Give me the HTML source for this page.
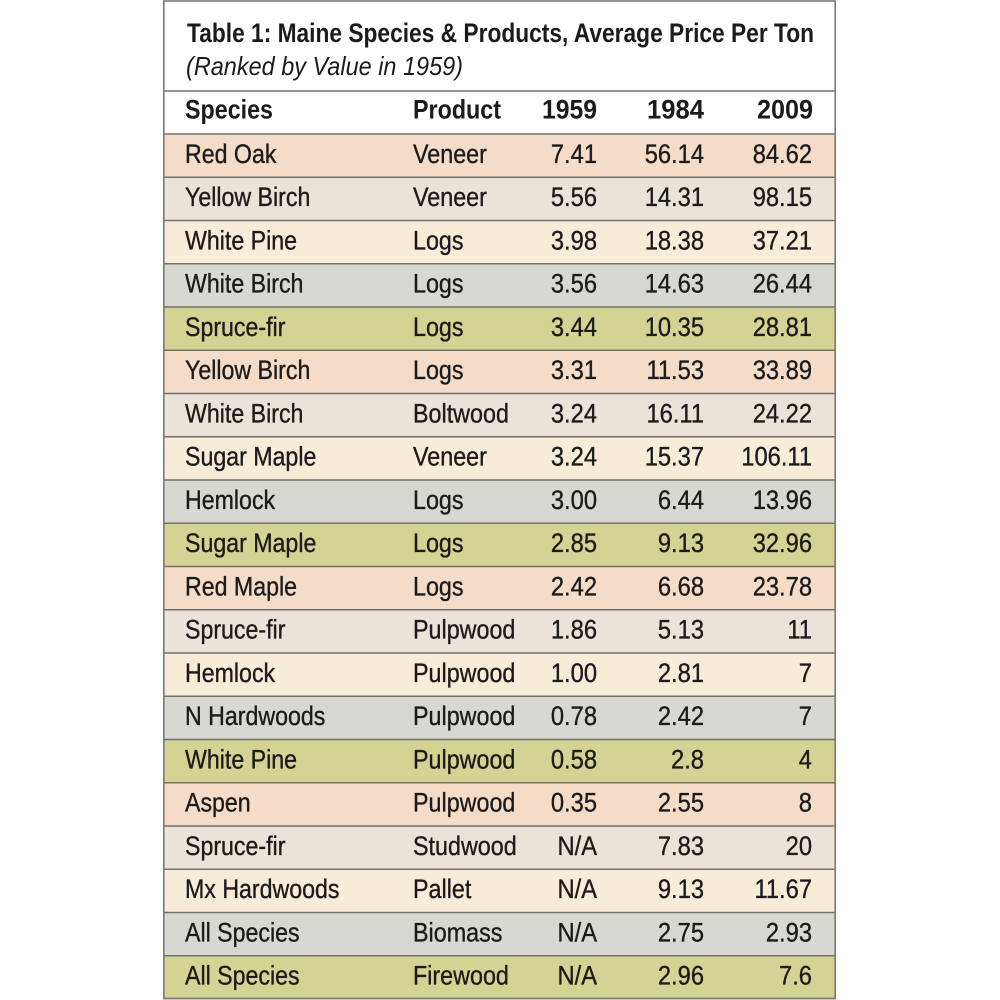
<!DOCTYPE html>
<html><head><meta charset="utf-8"><style>
html,body{margin:0;padding:0;background:#fff;}
svg{display:block;}
text{font-family:"Liberation Sans",Arial,sans-serif;fill:#1c1a1a;}
.b text{stroke:#1c1a1a;stroke-width:0.35;}
</style></head><body>
<svg width="1000" height="1000" viewBox="0 0 1000 1000" xmlns="http://www.w3.org/2000/svg">
<rect x="0" y="0" width="1000" height="1000" fill="#fff"/>
<!-- row backgrounds -->
<g>
<rect x="164" y="134" width="671" height="43.25" fill="#f4dcc9"/>
<rect x="164" y="177.25" width="671" height="43.25" fill="#e9e3da"/>
<rect x="164" y="220.5" width="671" height="43.25" fill="#f7ecd8"/>
<rect x="164" y="263.75" width="671" height="43.25" fill="#d8d8d2"/>
<rect x="164" y="307" width="671" height="43.25" fill="#d3d394"/>
<rect x="164" y="350.25" width="671" height="43.25" fill="#f4dcc9"/>
<rect x="164" y="393.5" width="671" height="43.25" fill="#e9e3da"/>
<rect x="164" y="436.75" width="671" height="43.25" fill="#f7ecd8"/>
<rect x="164" y="480" width="671" height="43.25" fill="#d8d8d2"/>
<rect x="164" y="523.25" width="671" height="43.25" fill="#d3d394"/>
<rect x="164" y="566.5" width="671" height="43.25" fill="#f4dcc9"/>
<rect x="164" y="609.75" width="671" height="43.25" fill="#e9e3da"/>
<rect x="164" y="653" width="671" height="43.25" fill="#f7ecd8"/>
<rect x="164" y="696.25" width="671" height="43.25" fill="#d8d8d2"/>
<rect x="164" y="739.5" width="671" height="43.25" fill="#d3d394"/>
<rect x="164" y="782.75" width="671" height="43.25" fill="#f4dcc9"/>
<rect x="164" y="826" width="671" height="43.25" fill="#e9e3da"/>
<rect x="164" y="869.25" width="671" height="43.25" fill="#f7ecd8"/>
<rect x="164" y="912.5" width="671" height="43.25" fill="#d8d8d2"/>
<rect x="164" y="955.75" width="671" height="43.25" fill="#d3d394"/>
</g>
<!-- lines -->
<g stroke="#737068" stroke-width="1.6">
<line x1="163" y1="91" x2="836" y2="91"/>
<line x1="163" y1="134" x2="836" y2="134"/>
<line x1="163" y1="177.25" x2="836" y2="177.25"/>
<line x1="163" y1="220.5" x2="836" y2="220.5"/>
<line x1="163" y1="263.75" x2="836" y2="263.75"/>
<line x1="163" y1="307" x2="836" y2="307"/>
<line x1="163" y1="350.25" x2="836" y2="350.25"/>
<line x1="163" y1="393.5" x2="836" y2="393.5"/>
<line x1="163" y1="436.75" x2="836" y2="436.75"/>
<line x1="163" y1="480" x2="836" y2="480"/>
<line x1="163" y1="523.25" x2="836" y2="523.25"/>
<line x1="163" y1="566.5" x2="836" y2="566.5"/>
<line x1="163" y1="609.75" x2="836" y2="609.75"/>
<line x1="163" y1="653" x2="836" y2="653"/>
<line x1="163" y1="696.25" x2="836" y2="696.25"/>
<line x1="163" y1="739.5" x2="836" y2="739.5"/>
<line x1="163" y1="782.75" x2="836" y2="782.75"/>
<line x1="163" y1="826" x2="836" y2="826"/>
<line x1="163" y1="869.25" x2="836" y2="869.25"/>
<line x1="163" y1="912.5" x2="836" y2="912.5"/>
<line x1="163" y1="955.75" x2="836" y2="955.75"/>
<line x1="163" y1="998.5" x2="836" y2="998.5"/>
</g>
<rect x="163.8" y="1" width="671.4" height="997.5" fill="none" stroke="#7a7a74" stroke-width="1.6"/>

<!-- title -->
<text x="187" y="42" font-size="27" font-weight="bold" textLength="627" lengthAdjust="spacingAndGlyphs">Table 1: Maine Species &amp; Products, Average Price Per Ton</text>
<text x="186" y="75" font-size="26" font-style="italic" textLength="277" lengthAdjust="spacingAndGlyphs">(Ranked by Value in 1959)</text>

<!-- header -->
<g font-size="26.5" font-weight="bold">
<text x="185" y="118.5" textLength="88" lengthAdjust="spacingAndGlyphs">Species</text>
<text x="413" y="118.5" textLength="88" lengthAdjust="spacingAndGlyphs">Product</text>
<text x="542" y="118.5" textLength="55" lengthAdjust="spacingAndGlyphs">1959</text>
<text x="647" y="118.5" textLength="57" lengthAdjust="spacingAndGlyphs">1984</text>
<text x="757" y="118.5" textLength="56" lengthAdjust="spacingAndGlyphs">2009</text>
</g>

<!-- species column -->
<g class="b" font-size="26.5" transform="translate(185,0) scale(0.875,1)">
<text x="0" y="162.8">Red Oak</text>
<text x="0" y="206.05">Yellow Birch</text>
<text x="0" y="249.3">White Pine</text>
<text x="0" y="292.55">White Birch</text>
<text x="0" y="335.8">Spruce-fir</text>
<text x="0" y="379.05">Yellow Birch</text>
<text x="0" y="422.3">White Birch</text>
<text x="0" y="465.55">Sugar Maple</text>
<text x="0" y="508.8">Hemlock</text>
<text x="0" y="552.05">Sugar Maple</text>
<text x="0" y="595.3">Red Maple</text>
<text x="0" y="638.55">Spruce-fir</text>
<text x="0" y="681.8">Hemlock</text>
<text x="0" y="725.05">N Hardwoods</text>
<text x="0" y="768.3">White Pine</text>
<text x="0" y="811.55">Aspen</text>
<text x="0" y="854.8">Spruce-fir</text>
<text x="0" y="898.05">Mx Hardwoods</text>
<text x="0" y="941.3">All Species</text>
<text x="0" y="984.55">All Species</text>
</g>

<!-- product column -->
<g class="b" font-size="26.5" transform="translate(413,0) scale(0.88,1)">
<text x="0" y="162.8">Veneer</text>
<text x="0" y="206.05">Veneer</text>
<text x="0" y="249.3">Logs</text>
<text x="0" y="292.55">Logs</text>
<text x="0" y="335.8">Logs</text>
<text x="0" y="379.05">Logs</text>
<text x="0" y="422.3">Boltwood</text>
<text x="0" y="465.55">Veneer</text>
<text x="0" y="508.8">Logs</text>
<text x="0" y="552.05">Logs</text>
<text x="0" y="595.3">Logs</text>
<text x="0" y="638.55">Pulpwood</text>
<text x="0" y="681.8">Pulpwood</text>
<text x="0" y="725.05">Pulpwood</text>
<text x="0" y="768.3">Pulpwood</text>
<text x="0" y="811.55">Pulpwood</text>
<text x="0" y="854.8">Studwood</text>
<text x="0" y="898.05">Pallet</text>
<text x="0" y="941.3">Biomass</text>
<text x="0" y="984.55">Firewood</text>
</g>

<!-- 1959 column -->
<g class="b" font-size="26.5" text-anchor="end" transform="translate(597,0) scale(0.895,1)">
<text x="0" y="162.8">7.41</text>
<text x="0" y="206.05">5.56</text>
<text x="0" y="249.3">3.98</text>
<text x="0" y="292.55">3.56</text>
<text x="0" y="335.8">3.44</text>
<text x="0" y="379.05">3.31</text>
<text x="0" y="422.3">3.24</text>
<text x="0" y="465.55">3.24</text>
<text x="0" y="508.8">3.00</text>
<text x="0" y="552.05">2.85</text>
<text x="0" y="595.3">2.42</text>
<text x="0" y="638.55">1.86</text>
<text x="0" y="681.8">1.00</text>
<text x="0" y="725.05">0.78</text>
<text x="0" y="768.3">0.58</text>
<text x="0" y="811.55">0.35</text>
<text x="0" y="854.8">N/A</text>
<text x="0" y="898.05">N/A</text>
<text x="0" y="941.3">N/A</text>
<text x="0" y="984.55">N/A</text>
</g>

<!-- 1984 column -->
<g class="b" font-size="26.5" text-anchor="end" transform="translate(704,0) scale(0.895,1)">
<text x="0" y="162.8">56.14</text>
<text x="0" y="206.05">14.31</text>
<text x="0" y="249.3">18.38</text>
<text x="0" y="292.55">14.63</text>
<text x="0" y="335.8">10.35</text>
<text x="0" y="379.05">11.53</text>
<text x="0" y="422.3">16.11</text>
<text x="0" y="465.55">15.37</text>
<text x="0" y="508.8">6.44</text>
<text x="0" y="552.05">9.13</text>
<text x="0" y="595.3">6.68</text>
<text x="0" y="638.55">5.13</text>
<text x="0" y="681.8">2.81</text>
<text x="0" y="725.05">2.42</text>
<text x="0" y="768.3">2.8</text>
<text x="0" y="811.55">2.55</text>
<text x="0" y="854.8">7.83</text>
<text x="0" y="898.05">9.13</text>
<text x="0" y="941.3">2.75</text>
<text x="0" y="984.55">2.96</text>
</g>

<!-- 2009 column -->
<g class="b" font-size="26.5" text-anchor="end" transform="translate(812,0) scale(0.895,1)">
<text x="0" y="162.8">84.62</text>
<text x="0" y="206.05">98.15</text>
<text x="0" y="249.3">37.21</text>
<text x="0" y="292.55">26.44</text>
<text x="0" y="335.8">28.81</text>
<text x="0" y="379.05">33.89</text>
<text x="0" y="422.3">24.22</text>
<text x="0" y="465.55">106.11</text>
<text x="0" y="508.8">13.96</text>
<text x="0" y="552.05">32.96</text>
<text x="0" y="595.3">23.78</text>
<text x="0" y="638.55">11</text>
<text x="0" y="681.8">7</text>
<text x="0" y="725.05">7</text>
<text x="0" y="768.3">4</text>
<text x="0" y="811.55">8</text>
<text x="0" y="854.8">20</text>
<text x="0" y="898.05">11.67</text>
<text x="0" y="941.3">2.93</text>
<text x="0" y="984.55">7.6</text>
</g>
</svg>
</body></html>
